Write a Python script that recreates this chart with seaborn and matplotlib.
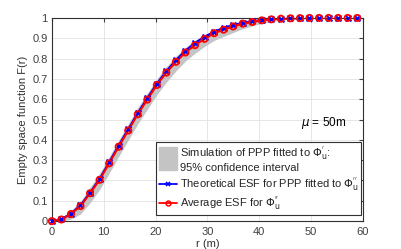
import numpy as np
import pandas as pd
import matplotlib
matplotlib.use("Agg")
import matplotlib.pyplot as plt
import seaborn as sns
from matplotlib.patches import Rectangle
from matplotlib.lines import Line2D
from matplotlib.legend_handler import HandlerPatch

# DATA
r_vals = [0, 1.84, 3.68, 5.52, 7.36, 9.2, 11.04, 12.88, 14.72, 16.56, 18.4,
          20.24, 22.08, 23.92, 25.76, 27.6, 29.44, 31.28, 33.12, 34.96, 36.8,
          38.64, 40.48, 42.32, 44.16, 46.0, 47.84, 49.68, 51.52, 53.36, 55.2,
          57.04, 58.88, 60]
esf_avg = [0, 0.008, 0.035, 0.074, 0.137, 0.203, 0.284, 0.366, 0.446, 0.526,
           0.598, 0.670, 0.731, 0.784, 0.830, 0.866, 0.897, 0.925, 0.942, 0.958,
           0.972, 0.980, 0.988, 0.993, 0.996, 0.998, 0.999, 1.0, 1.0, 1.0,
           1.0, 1.0, 1.0, 1.0]
esf_theory = [0, 0.009, 0.037, 0.078, 0.140, 0.208, 0.289, 0.372, 0.452, 0.532,
              0.605, 0.676, 0.738, 0.792, 0.839, 0.877, 0.907, 0.932, 0.951, 0.965,
              0.976, 0.984, 0.990, 0.994, 0.997, 0.998, 0.999, 1.0, 1.0, 1.0,
              1.0, 1.0, 1.0, 1.0]
ci_low = [0, 0.0, 0.010, 0.035, 0.090, 0.155, 0.235, 0.318, 0.398, 0.478,
          0.550, 0.622, 0.684, 0.739, 0.788, 0.826, 0.860, 0.889, 0.909, 0.928,
          0.947, 0.961, 0.973, 0.983, 0.989, 0.994, 0.997, 0.999, 1.0, 1.0,
          1.0, 1.0, 1.0, 1.0]
ci_high = [0, 0.016, 0.052, 0.097, 0.166, 0.235, 0.316, 0.398, 0.478, 0.558,
           0.630, 0.700, 0.760, 0.812, 0.855, 0.889, 0.917, 0.941, 0.958, 0.971,
           0.981, 0.988, 0.993, 0.997, 0.999, 1.0, 1.0, 1.0, 1.0, 1.0,
           1.0, 1.0, 1.0, 1.0]

df = pd.DataFrame({"r": r_vals, "avg": esf_avg, "theory": esf_theory,
                   "low": ci_low, "high": ci_high})
pts = df.iloc[:-1]  # markers are not drawn at r = 60

sns.set_style("whitegrid")
plt.rcParams["font.family"] = ["Liberation Sans", "DejaVu Sans"]
plt.rcParams["mathtext.fontset"] = "dejavusans"

fig = plt.figure(figsize=(4.02, 2.49), dpi=100)
ax = fig.add_axes([0.129, 0.112, 0.774, 0.816])

ax.fill_between(df["r"], df["low"], df["high"], color="#c4c4c4", lw=0)
sns.lineplot(data=df, x="r", y="theory", ax=ax, color="blue", lw=1.5)
sns.scatterplot(data=pts, x="r", y="theory", ax=ax, color="blue", marker="x",
                s=18, linewidth=1.4, zorder=3, clip_on=False)
sns.lineplot(data=df, x="r", y="avg", ax=ax, color="red", lw=1.5)
sns.scatterplot(data=pts, x="r", y="avg", ax=ax, marker="o", s=20,
                facecolor="none", edgecolor="red", linewidth=1.3, zorder=4,
                clip_on=False)

ax.set_xlim(0, 60)
ax.set_ylim(0, 1)
ax.set_xticks(range(0, 61, 10))
ax.set_yticks(np.arange(0, 1.01, 0.1))
ax.set_yticklabels(["0", "0.1", "0.2", "0.3", "0.4", "0.5", "0.6", "0.7",
                    "0.8", "0.9", "1"])
ax.tick_params(labelsize=8, colors="#404040", direction="in", length=3,
               top=True, right=True, pad=3)
ax.tick_params(axis="x", pad=4)
ax.grid(color="#e6e6e6", lw=0.7)
for s in ax.spines.values():
    s.set_color("#303030")
    s.set_linewidth(0.8)
ax.set_xlabel("r (m)", fontsize=8, color="#303030", labelpad=2)
ax.set_ylabel("Empty space function F(r)", fontsize=8, color="#303030", labelpad=3)

ax.text(48, 0.47, r"$\mu$ = 50m", fontsize=8.5, color="black")


def tall_patch(legend, orig_handle, xdescent, ydescent, width, height, fontsize):
    return Rectangle((-xdescent, -ydescent - height * 0.9), width, height * 2.9)


handles = [Rectangle((0, 0), 1, 1, color="#c4c4c4"),
           Line2D([], [], color="blue", lw=1.3, marker="x", markersize=3.5, mew=1.2),
           Line2D([], [], color="red", lw=1.3, marker="o", markersize=3.5, mew=1.1, mfc="none")]
labels = [r"Simulation of PPP fitted to $\Phi_{\mathrm{u}}^{'}$:" + "\n95% confidence interval",
          r"Theoretical ESF for PPP fitted to $\Phi_{\mathrm{u}}^{''}$",
          r"Average ESF for $\Phi_{\mathrm{u}}^{''}$"]
leg = ax.legend(handles, labels, loc="lower right", bbox_to_anchor=(0.995, 0.03),
                fontsize=8, frameon=True, fancybox=False, framealpha=1,
                edgecolor="#303030", handlelength=1.7, handletextpad=0.2,
                borderpad=0.25, labelspacing=0.2, borderaxespad=0,
                handler_map={Rectangle: HandlerPatch(patch_func=tall_patch)})
leg.get_frame().set_linewidth(0.8)

fig.savefig("out.png", dpi=100)
